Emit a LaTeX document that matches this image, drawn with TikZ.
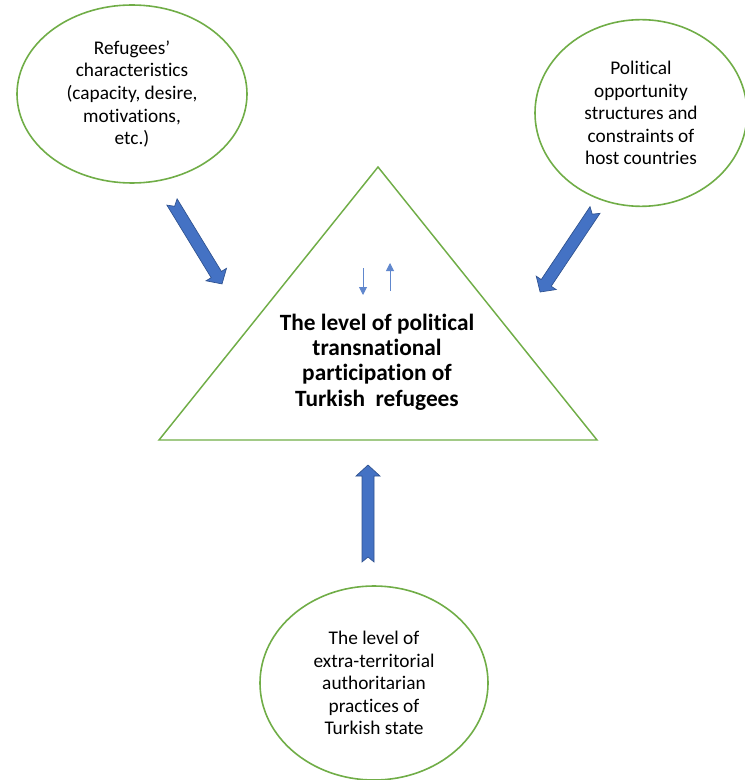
\documentclass[tikz,border=0pt]{standalone}
\usepackage{fontspec}
\setmainfont{Carlito}[Ligatures=NoCommon]
\usetikzlibrary{shapes.geometric,arrows.meta}
\definecolor{ellgreen}{HTML}{70AD47}
\definecolor{arrblue}{HTML}{4472C4}
\definecolor{arrdark}{HTML}{2F528F}
\newcommand\blockarr[3]{%
  \begin{scope}[shift={(#1)},rotate=#2]
    \filldraw[barrow] (0,-6) -- (#3-11,-6) -- (#3-11,-12) -- (#3,0) -- (#3-11,12) -- (#3-11,6) -- (0,6) -- (5,0) -- cycle;
  \end{scope}}
\begin{document}
\begin{tikzpicture}[x=0.75pt,y=-0.75pt,
  ell/.style={draw=ellgreen,line width=1.2pt,ellipse,inner sep=0pt,align=center,
    font=\fontsize{14.5}{16.9}\selectfont},
  tri/.style={draw=ellgreen,line width=1.1pt},
  barrow/.style={fill=arrblue,draw=arrdark,line width=0.5pt},
  thin arrow/.style={draw=arrblue!85,line width=0.7pt,-{Triangle[length=6pt,width=6pt]}},
  maintext/.style={align=center,font=\bfseries\fontsize{17.5}{19}\selectfont}]
\useasboundingbox (0,0) rectangle (744,780);
% ellipses
\node[ell,minimum width=172.5pt,minimum height=133.5pt] (refugees) at (132,94)
  {Refugees’\\characteristics\\(capacity, desire,\\motivations,\\etc.)};
\node[ell,minimum width=159pt,minimum height=140pt] (host) at (641,113)
  {Political\\opportunity\\structures and\\constraints of\\host countries};
\node[ell,minimum width=171pt,minimum height=145.5pt] (state) at (374,683)
  {The level of\\extra-territorial\\authoritarian\\practices of\\Turkish state};
% triangle
\coordinate (apex) at (378,167);
\coordinate (bl) at (159,440);
\coordinate (br) at (597,440);
\draw[tri] (apex) -- (bl) -- (br) -- cycle;
\node[maintext] (level) at (377,362) {The level of political\\transnational\\participation of\\Turkish\ \ refugees};
% small arrows
\coordinate (d1) at (363,268); \coordinate (d2) at (363,295);
\coordinate (u1) at (390,291); \coordinate (u2) at (390,263);
\draw[thin arrow] (d1) -- (d2);
\draw[thin arrow] (u1) -- (u2);
% block arrows
\blockarr{172,202}{-58.6}{96}
\blockarr{595,210}{-123.8}{98.7}
\blockarr{368,562}{90}{97}
\end{tikzpicture}
\end{document}
